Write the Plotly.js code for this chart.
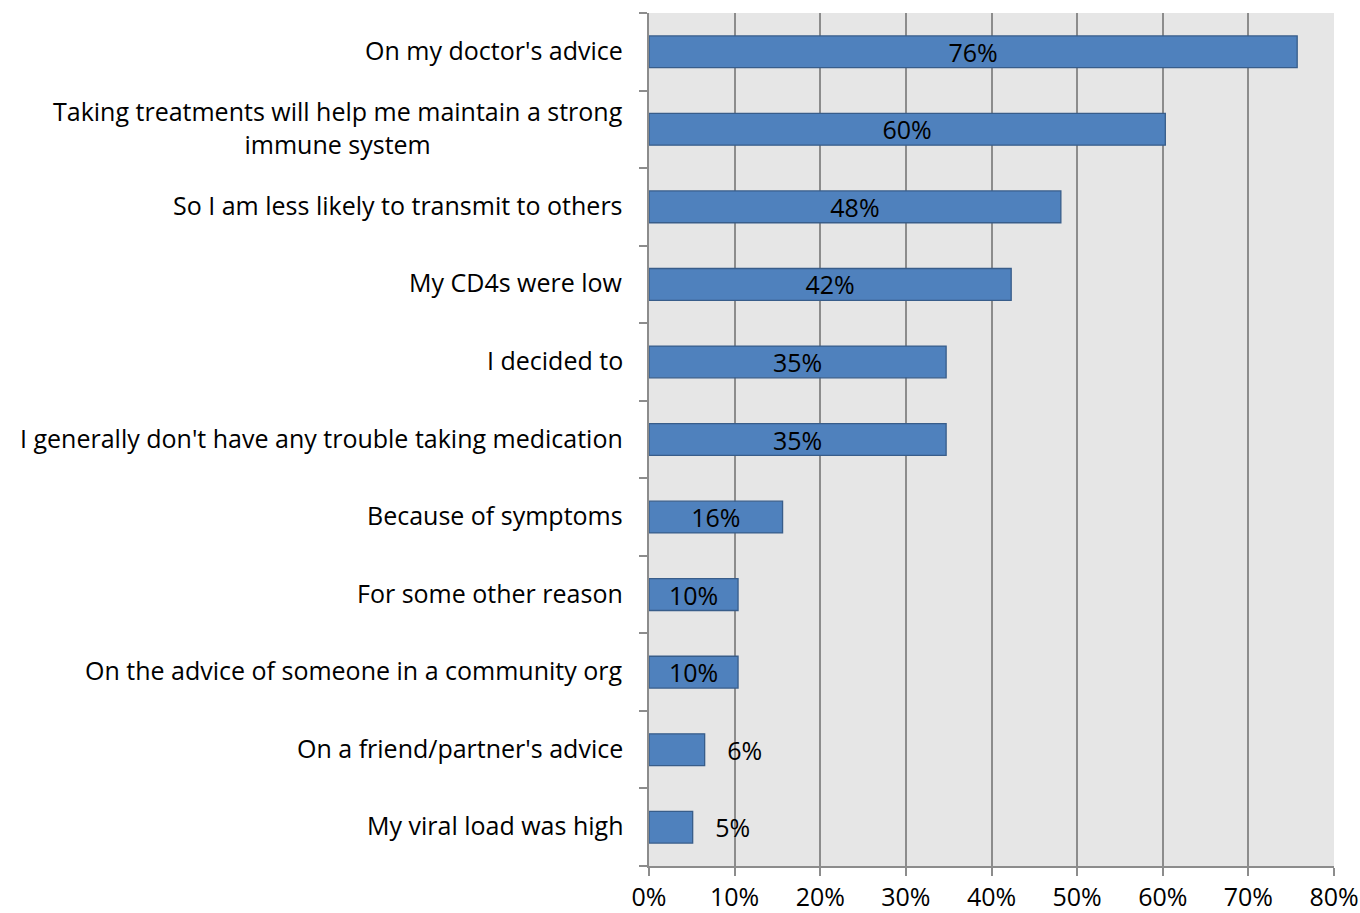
<!DOCTYPE html>
<html>
<head>
<meta charset="utf-8">
<script src="https://cdn.plot.ly/plotly-3.0.1.min.js"></script>
<style>html,body{margin:0;padding:0;background:#fff;}#chart{width:1360px;height:913px;}</style>
</head>
<body>
<div id="chart"></div>
<script>
var categories = [
  "On my doctor's advice",
  "Taking treatments will help me maintain a strong<br>immune system",
  "So I am less likely to transmit to others",
  "My CD4s were low",
  "I decided to",
  "I generally don't have any trouble taking medication",
  "Because of symptoms",
  "For some other reason",
  "On the advice of someone in a community org",
  "On a friend/partner's advice",
  "My viral load was high"
];
var values = [75.7, 60.3, 48.1, 42.3, 34.7, 34.7, 15.6, 10.4, 10.4, 6.5, 5.1];
var labels = ["76%", "60%", "48%", "42%", "35%", "35%", "16%", "10%", "10%", "6%", "5%"];
var xTickVals = [0, 10, 20, 30, 40, 50, 60, 70, 80];
var xTickText = ["0%", "10%", "20%", "30%", "40%", "50%", "60%", "70%", "80%"];

var FONT = "Open Sans, Liberation Sans, sans-serif";
var FS = 25;
var positions = values.map(function (v) { return v < 8 ? "outside" : "inside"; });
var texts = labels.map(function (t, i) { return positions[i] === "outside" ? "\u00a0\u00a0\u00a0" + t : t; });

var trace = {
  type: "bar",
  orientation: "h",
  x: values,
  y: categories,
  text: texts,
  textposition: positions,
  insidetextanchor: "middle",
  textfont: {family: FONT, size: FS, color: "#000"},
  insidetextfont: {family: FONT, size: FS, color: "#000"},
  outsidetextfont: {family: FONT, size: FS, color: "#000"},
  constraintext: "none",
  cliponaxis: false,
  marker: {color: "#4f81bd", line: {color: "#385d8a", width: 1.3}},
  hoverinfo: "none"
};

var annotations = categories.map(function (c) {
  return {
    xref: "paper", yref: "y",
    x: 0, y: c,
    xanchor: "right", yanchor: "middle",
    xshift: -24,
    yshift: 2,
    align: "center",
    showarrow: false,
    text: c,
    font: {family: FONT, size: FS, color: "#000"}
  };
});

var layout = {
  width: 1360,
  height: 913,
  margin: {l: 649, r: 26, t: 13, b: 47},
  paper_bgcolor: "#ffffff",
  plot_bgcolor: "#e6e6e6",
  showlegend: false,
  bargap: 0.59,
  font: {family: FONT, size: FS, color: "#000"},
  annotations: annotations,
  xaxis: {
    range: [0, 80],
    tickvals: xTickVals,
    ticktext: xTickText,
    showgrid: true,
    gridcolor: "#8c8c8c",
    gridwidth: 2,
    zeroline: false,
    showline: true,
    linecolor: "#8c8c8c",
    linewidth: 2,
    ticks: "outside",
    ticklen: 8,
    tickwidth: 2,
    tickcolor: "#8c8c8c",
    tickfont: {family: FONT, size: FS, color: "#000"},
    ticklabelstandoff: 0,
    fixedrange: true
  },
  yaxis: {
    type: "category",
    categoryorder: "array",
    categoryarray: categories.slice().reverse(),
    autorange: false,
    range: [-0.5, categories.length - 0.5],
    showline: true,
    linecolor: "#8c8c8c",
    linewidth: 2,
    ticks: "outside",
    tickson: "boundaries",
    ticklen: 8,
    tickwidth: 2,
    tickcolor: "#8c8c8c",
    showgrid: false,
    showticklabels: false,
    fixedrange: true
  }
};

Plotly.newPlot("chart", [trace], layout, {displayModeBar: false, staticPlot: true});
</script>
</body>
</html>
